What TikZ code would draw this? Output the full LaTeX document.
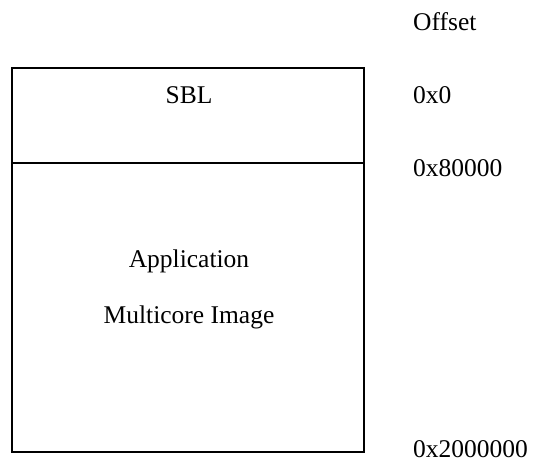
\documentclass[tikz,border=0pt]{standalone}
\usepackage{fontspec}
\setmainfont{Liberation Serif}
\begin{document}
\begin{tikzpicture}[x=1pt,y=-1pt,
  lbl/.style={anchor=base west,inner sep=0pt,font=\fontsize{25.5}{30}\selectfont},
  ctr/.style={anchor=base,inner sep=0pt,font=\fontsize{25.5}{30}\selectfont},
  boxline/.style={line width=1.5pt}]
\useasboundingbox (0,0) rectangle (535,463);
\coordinate (tl) at (12,68);
\coordinate (br) at (364,452);
\coordinate (dl) at (12,163);
\coordinate (dr) at (364,163);
\draw[boxline] (tl) rectangle (br);
\draw[boxline] (dl) -- (dr);
\node[ctr] (sbl) at (189,103) {SBL};
\node[ctr] (app) at (189,267) {Application};
\node[ctr] (mci) at (189,323) {Multicore Image};
\node[lbl] (off) at (413,30) {Offset};
\node[lbl] (o0) at (413,103) {0x0};
\node[lbl] (o1) at (413,176) {0x80000};
\node[lbl] (o2) at (413,457) {0x2000000};
\end{tikzpicture}
\end{document}
